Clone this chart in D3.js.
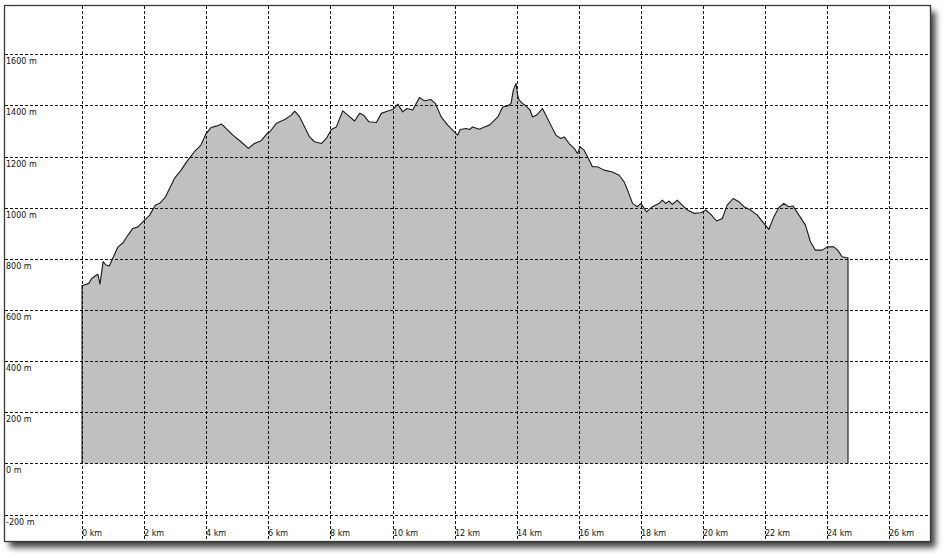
<!DOCTYPE html>
<html>
<head>
<meta charset="utf-8">
<script src="https://cdn.jsdelivr.net/npm/d3@7"></script>
<style>
  html, body { margin: 0; padding: 0; background: #fff; }
  svg { display: block; }
</style>
</head>
<body>
<svg id="chart" width="945" height="558"></svg>
<script>
// ---- data ----
const distanceKm = [0.00,0.22,0.30,0.43,0.51,0.58,0.68,0.77,0.88,0.99,1.16,1.32,1.48,1.64,1.80,1.96,2.18,2.36,2.50,2.68,2.82,2.98,3.19,3.41,3.62,3.83,4.00,4.16,4.32,4.50,4.64,4.86,5.12,5.36,5.55,5.77,5.98,6.05,6.26,6.53,6.74,6.85,7.01,7.17,7.33,7.49,7.71,7.87,8.03,8.19,8.40,8.56,8.78,8.94,9.07,9.24,9.48,9.64,9.85,10.01,10.17,10.33,10.46,10.65,10.87,11.03,11.24,11.38,11.57,11.78,11.99,12.10,12.18,12.37,12.48,12.58,12.80,12.96,13.12,13.23,13.39,13.55,13.71,13.82,13.89,13.98,14.03,14.08,14.19,14.30,14.43,14.51,14.67,14.83,14.94,15.10,15.26,15.42,15.53,15.69,15.85,15.96,16.04,16.17,16.28,16.44,16.60,16.82,17.08,17.30,17.46,17.57,17.73,17.89,18.00,18.18,18.37,18.59,18.69,18.80,18.91,19.01,19.17,19.33,19.50,19.71,19.93,20.09,20.25,20.44,20.62,20.78,20.97,21.16,21.32,21.53,21.75,21.96,22.12,22.28,22.44,22.60,22.76,22.90,23.09,23.30,23.46,23.62,23.84,24.00,24.21,24.34,24.48,24.64,24.67];
const elevationM = [695,704,721,734,740,701,789,776,772,802,847,863,893,919,925,945,971,1010,1017,1040,1075,1115,1147,1186,1219,1245,1290,1314,1319,1327,1310,1284,1258,1232,1251,1262,1293,1297,1330,1345,1362,1378,1355,1316,1277,1258,1251,1271,1306,1316,1379,1362,1339,1369,1362,1336,1333,1369,1378,1384,1405,1375,1388,1382,1431,1418,1423,1408,1355,1323,1297,1284,1306,1310,1306,1316,1307,1316,1323,1336,1355,1394,1398,1408,1460,1486,1440,1421,1408,1398,1382,1355,1365,1388,1362,1323,1284,1271,1277,1251,1232,1212,1238,1225,1199,1160,1160,1147,1140,1127,1101,1069,1017,1004,1017,984,1004,1017,1030,1017,1026,1013,1030,1010,991,978,980,991,974,948,958,1010,1036,1023,1004,991,971,939,915,964,1000,1017,1004,1007,971,932,867,834,834,847,847,834,808,804,804];
const xTicksKm = [0,2,4,6,8,10,12,14,16,18,20,22,24,26];
const yTicksM = [-200,0,200,400,600,800,1000,1200,1400,1600];

// ---- layout ----
const frame = {x0: 4.5, y0: 5.5, x1: 930.5, y1: 541.5};
const svg = d3.select("#chart");

const x = d3.scaleLinear().domain([0, 26]).range([82, 889.3]);
const y = d3.scaleLinear().domain([0, 1600]).range([463.4, 54.3]);

const defs = svg.append("defs");
const f = defs.append("filter").attr("id", "shadow")
  .attr("x", "-5%").attr("y", "-5%").attr("width", "115%").attr("height", "115%");
f.append("feGaussianBlur").attr("in", "SourceAlpha").attr("stdDeviation", 3).attr("result", "b");
f.append("feOffset").attr("in", "b").attr("dx", 5).attr("dy", 6).attr("result", "o");
f.append("feComponentTransfer").attr("in", "o").attr("result", "s")
  .append("feFuncA").attr("type", "linear").attr("slope", 0.75);
const m = f.append("feMerge");
m.append("feMergeNode").attr("in", "s");
m.append("feMergeNode").attr("in", "SourceGraphic");

svg.append("rect")
  .attr("x", frame.x0).attr("y", frame.y0)
  .attr("width", frame.x1 - frame.x0).attr("height", frame.y1 - frame.y0)
  .attr("fill", "#fff").attr("filter", "url(#shadow)");

const pts = distanceKm.map((d, i) => [d, elevationM[i]]);

// area fill
svg.append("path")
  .datum(pts)
  .attr("d", d3.area().x(d => x(d[0])).y0(y(0)).y1(d => y(d[1])))
  .attr("fill", "#c0c0c0");

// grid
const snap = v => Math.round(v) + 0.5;
svg.append("g").selectAll("line").data(yTicksM).join("line")
  .attr("x1", frame.x0).attr("x2", frame.x1)
  .attr("y1", d => snap(y(d))).attr("y2", d => snap(y(d)))
  .attr("stroke", "#111").attr("stroke-width", 1)
  .attr("stroke-dasharray", "3,2").attr("shape-rendering", "crispEdges");
svg.append("g").selectAll("line").data(xTicksKm).join("line")
  .attr("y1", frame.y0).attr("y2", frame.y1)
  .attr("x1", d => snap(x(d))).attr("x2", d => snap(x(d)))
  .attr("stroke", "#111").attr("stroke-width", 1)
  .attr("stroke-dasharray", "3,2").attr("shape-rendering", "crispEdges");

// profile outline (left edge, top line, right edge)
const outline = [[distanceKm[0], 0]].concat(pts, [[distanceKm[distanceKm.length - 1], 0]]);
svg.append("path")
  .datum(outline)
  .attr("d", d3.line().x(d => x(d[0])).y(d => y(d[1])))
  .attr("fill", "none").attr("stroke", "#1a1a1a").attr("stroke-width", 1.1)
  .attr("stroke-linejoin", "round");

// labels
const font = "'DejaVu Sans', Verdana, sans-serif";
svg.append("g").selectAll("text").data(yTicksM).join("text")
  .attr("x", 6).attr("y", d => snap(y(d)) + 9.5)
  .attr("font-family", font).attr("font-size", 8).attr("fill", "#111")
  .text(d => d + " m");
svg.append("g").selectAll("text").data(xTicksKm).join("text")
  .attr("x", d => snap(x(d)) - 0.5).attr("y", 536)
  .attr("font-family", font).attr("font-size", 8).attr("fill", "#111")
  .text(d => d + " km");

// frame
svg.append("rect")
  .attr("x", frame.x0).attr("y", frame.y0)
  .attr("width", frame.x1 - frame.x0).attr("height", frame.y1 - frame.y0)
  .attr("fill", "none").attr("stroke", "#3a3a3a").attr("stroke-width", 1.3);
</script>
</body>
</html>
